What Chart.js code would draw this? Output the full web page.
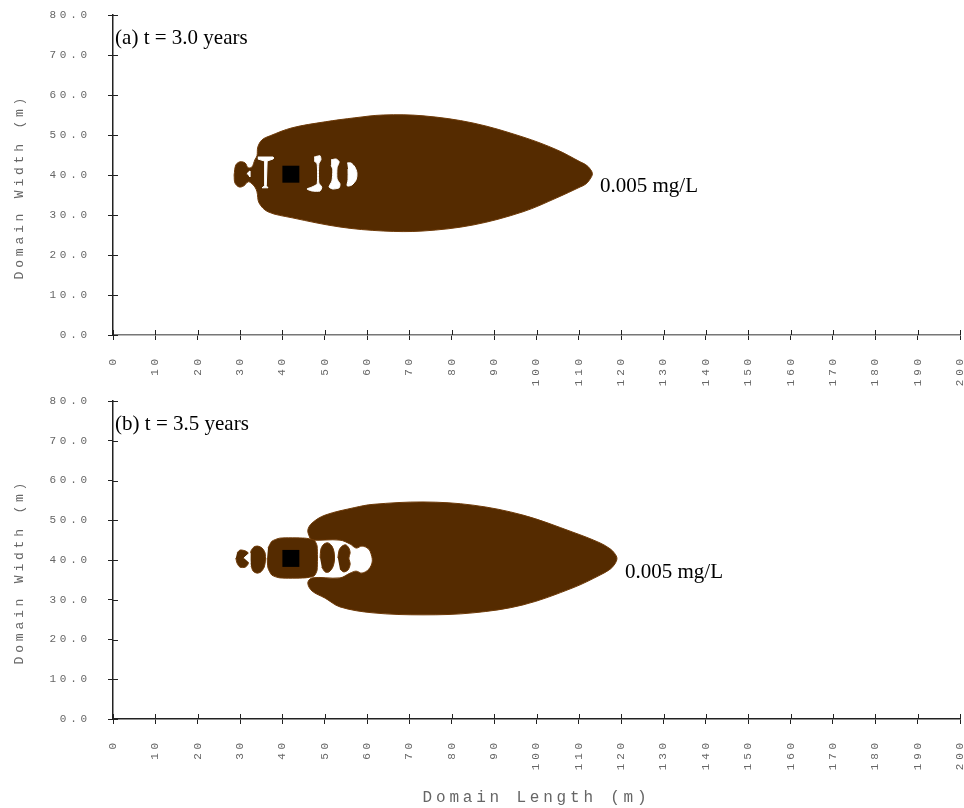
<!DOCTYPE html>
<html lang="en">
<head>
<meta charset="UTF-8">
<title>Plume snapshots</title>
<script src="https://cdn.jsdelivr.net/npm/chart.js@4.4.0/dist/chart.umd.min.js"></script>
<style>
  * { margin: 0; padding: 0; box-sizing: border-box; }
  body { background: #fff; width: 964px; height: 808px; overflow: hidden; position: relative; }
  canvas { position: absolute; left: 0; }
  #plumeA { top: 0; }
  #plumeB { top: 392px; }
</style>
</head>
<body>
<canvas id="plumeA" width="964" height="392"></canvas>
<canvas id="plumeB" width="964" height="416"></canvas>
<script>
// axis ticks
const xTickValues = [0, 10, 20, 30, 40, 50, 60, 70, 80, 90, 100, 110, 120, 130, 140, 150, 160, 170, 180, 190, 200];
const yTickValues = [0, 10, 20, 30, 40, 50, 60, 70, 80];
const yTickLabels = ['0.0', '10.0', '20.0', '30.0', '40.0', '50.0', '60.0', '70.0', '80.0'];

// source location (m)
const sourceA = [[42, 40.2]];
const sourceB = [[42, 40.4]];

// (a) t = 3.0 years : 0.005 mg/L contour, [length, width] in m
const plumeA = [[28.6,40.0],[29.0,42.5],[30.0,43.3],[31.2,43.0],[31.9,41.8],[32.8,42.0],[33.5,43.8],[34.0,44.8],
  [34.2,47.0],[35.2,48.8],[37.1,49.8],[42.3,51.8],[50.1,53.3],[57.1,54.3],[63.8,55.0],[73.2,54.8],[85.0,53.0],
  [96.8,49.5],[104.8,46.3],[110.3,43.3],[111.6,42.6],[112.6,41.6],[113.2,40.3],[112.6,38.9],[111.6,37.7],
  [110.3,37.0],[104.8,34.3],[96.8,30.8],[85.0,27.5],[73.2,26.0],[63.8,26.0],[53.6,27.0],[42.3,29.3],[36.6,30.8],
  [34.5,33.0],[34.0,35.8],[33.5,37.0],[32.6,38.0],[31.9,38.3],[30.9,37.3],[29.8,37.0],[28.8,38.0],[28.6,40.0]];
// gaps inside the (a) contour
const holeA1 = [[34.2,44.5],[37.8,44.5],[37.8,44.0],[36.4,43.5],[36.2,37.3],[36.6,36.8],[35.2,36.8],[35.8,37.3],[35.8,43.5],[34.2,44.0]];
const holeA2 = [[47.5,44.5],[48.9,44.8],[49.1,43.8],[48.6,42.8],[48.6,38.0],[49.3,37.0],[48.9,36.0],[47.0,36.0],[45.8,36.5],[47.0,37.0],[48.2,37.8],[48.2,42.8],[47.5,43.5]];
const holeA3 = [[51.5,43.8],[52.7,44.0],[53.4,43.3],[52.9,41.8],[52.9,39.0],[53.6,37.8],[53.4,36.8],[51.9,36.5],[51.0,37.0],[51.7,38.5],[51.9,41.3],[51.5,42.5]];
const holeA4 = [[55.3,43.0],[56.2,43.0],[57.1,42.0],[57.6,40.5],[57.4,38.8],[56.4,37.5],[55.3,37.3],[55.5,38.8],[55.5,41.5]];
const holeA5 = [[31.6,40.3],[32.3,41.0],[32.3,39.5]];

// (b) t = 3.5 years
const plumeB = [[46.5,45.5],[46.0,47.5],[47.0,49.3],[50.1,51.3],[57.1,53.2],[61.4,54.0],[73.2,54.6],[85.0,53.8],
  [96.8,51.3],[108.6,47.0],[115.0,44.3],[117.4,42.8],[118.5,41.6],[119.0,40.4],[118.5,39.0],[117.4,37.7],
  [115.0,36.2],[108.6,33.0],[96.8,28.7],[85.0,26.7],[73.2,26.2],[61.4,26.7],[53.6,28.2],[50.1,30.4],[47.0,32.2],
  [46.0,34.2],[47.0,35.5],[53.6,35.5],[56.0,36.7],[57.4,37.2],[58.8,36.7],[60.4,37.7],[61.2,39.5],[61.0,41.3],
  [60.3,42.8],[58.8,43.5],[57.4,43.0],[56.0,44.0],[53.6,45.0],[47.0,45.0],[46.5,45.5]];
const blobB1 = [[29.3,41.8],[30.0,42.5],[31.2,42.3],[31.9,41.8],[32.1,40.5],[31.9,39.0],[31.2,38.2],[30.0,38.2],[29.3,39.2],[29.0,40.5]];
const blobB2 = [[32.3,40.3],[32.6,42.3],[33.3,43.3],[34.2,43.5],[35.2,43.0],[35.9,41.8],[36.0,40.0],[35.7,38.2],[34.9,37.0],[34.0,36.7],[33.1,37.2],[32.6,38.5]];
const blobB3 = [[36.6,43.0],[37.5,44.7],[39.4,45.5],[45.3,45.5],[47.5,45.0],[48.2,43.5],[48.2,37.5],[47.5,36.0],[45.3,35.5],[39.4,35.5],[37.5,36.2],[36.6,38.0],[36.4,40.5]];
const blobB4 = [[48.9,40.5],[49.1,42.8],[49.8,44.0],[50.8,44.3],[51.7,43.5],[52.2,42.0],[52.3,40.0],[51.9,38.2],[51.0,37.0],[50.1,37.0],[49.3,38.2]];
const blobB5 = [[53.1,40.5],[53.4,42.5],[54.1,43.5],[55.0,43.8],[55.7,43.0],[56.0,41.8],[55.7,40.5],[56.0,39.0],[55.5,37.5],[54.5,37.0],[53.6,37.7]];
const holeB1 = [[30.9,40.5],[32.3,41.8],[32.3,39.2]];

const BROWN = '#552b00';
const EDGE = '#6e3a08';
const MONO = "'Liberation Mono', 'Courier New', monospace";

function shape(points, color, edge, tension) {
  return {
    data: points.map(p => ({ x: p[0], y: p[1] })),
    showLine: true,
    fill: 'shape',
    backgroundColor: color,
    borderColor: edge,
    borderWidth: 1,
    pointRadius: 0,
    tension: tension
  };
}

function source(points) {
  return {
    data: points.map(p => ({ x: p[0], y: p[1] })),
    pointStyle: 'rect',
    pointRadius: 12,
    backgroundColor: '#000',
    borderWidth: 0,
    showLine: false
  };
}

// ticks cross the axes and the text notes sit in data space
const decor = {
  id: 'decor',
  beforeDraw(chart) {
    chart.ctx.letterSpacing = '3.8px';
  },
  afterDraw(chart, args, opts) {
    const { ctx, chartArea: a, scales: { x, y } } = chart;
    ctx.save();
    ctx.letterSpacing = '0px';
    ctx.strokeStyle = '#222';
    ctx.lineWidth = 1;
    ctx.beginPath();
    x.ticks.forEach(t => {
      const px = Math.round(x.getPixelForValue(t.value)) + 0.5;
      ctx.moveTo(px, a.bottom);
      ctx.lineTo(px, a.bottom - 5);
    });
    y.ticks.forEach(t => {
      const py = Math.round(y.getPixelForValue(t.value)) + 0.5;
      ctx.moveTo(a.left, py);
      ctx.lineTo(a.left + 5, py);
    });
    ctx.stroke();
    ctx.fillStyle = '#000';
    ctx.font = '21px "Liberation Serif", "Times New Roman", serif';
    ctx.textAlign = 'left';
    ctx.textBaseline = 'alphabetic';
    opts.notes.forEach(n => ctx.fillText(n.text, x.getPixelForValue(n.at[0]), y.getPixelForValue(n.at[1])));
    ctx.restore();
    ctx.letterSpacing = '0px';
  }
};

function makeChart(id, datasets, cfg) {
  return new Chart(document.getElementById(id), {
    type: 'scatter',
    data: { datasets: datasets },
    plugins: [decor],
    options: {
      responsive: false,
      animation: false,
      events: [],
      layout: { autoPadding: false, padding: { top: cfg.top, right: 4, left: 0, bottom: 0 } },
      plugins: {
        legend: { display: false },
        tooltip: { enabled: false },
        decor: { notes: cfg.notes }
      },
      scales: {
        x: {
          type: 'linear',
          min: 0,
          max: 200,
          afterFit: s => { s.height = cfg.xHeight; s.paddingLeft = 0; s.paddingRight = 0; },
          grid: { drawOnChartArea: false, tickLength: 5, color: '#222' },
          border: { color: cfg.xAxisColor, width: 1.5 },
          ticks: {
            stepSize: 10,
            autoSkip: false,
            minRotation: 90,
            maxRotation: 90,
            padding: 15,
            color: '#666',
            font: { family: MONO, size: 11 },
            callback: v => xTickValues.includes(v) ? String(v) : ''
          },
          title: {
            display: cfg.xTitle,
            text: 'Domain Length (m)',
            color: '#666',
            font: { family: MONO, size: 16 },
            padding: { top: 0, bottom: 1 }
          }
        },
        y: {
          type: 'linear',
          min: 0,
          max: 80,
          afterFit: s => { s.width = 113; s.paddingTop = 0; s.paddingBottom = 0; },
          grid: { drawOnChartArea: false, tickLength: 5, color: '#222' },
          border: { color: '#222', width: 1.5 },
          ticks: {
            stepSize: 10,
            padding: 17,
            color: '#666',
            font: { family: MONO, size: 11 },
            callback: v => yTickLabels[yTickValues.indexOf(v)]
          },
          title: {
            display: true,
            text: 'Domain Width (m)  ',
            color: '#666',
            font: { family: MONO, size: 13 },
            padding: { top: 12, bottom: 0 }
          }
        }
      }
    }
  });
}

makeChart('plumeA', [
  source(sourceA),
  shape(holeA1, '#fff', '#fff', 0),
  shape(holeA2, '#fff', '#fff', 0.2),
  shape(holeA3, '#fff', '#fff', 0.2),
  shape(holeA4, '#fff', '#fff', 0.3),
  shape(holeA5, '#fff', '#fff', 0),
  shape(plumeA, BROWN, EDGE, 0.35)
], {
  top: 15, xHeight: 57, xAxisColor: '#777', xTitle: false,
  notes: [
    { text: '(a) t = 3.0 years', at: [0.5, 72.8] },
    { text: '0.005 mg/L', at: [115, 35.8] }
  ]
});

makeChart('plumeB', [
  source(sourceB),
  shape(holeB1, '#fff', '#fff', 0),
  shape(blobB1, BROWN, EDGE, 0.3),
  shape(blobB2, BROWN, EDGE, 0.3),
  shape(blobB3, BROWN, EDGE, 0.2),
  shape(blobB4, BROWN, EDGE, 0.3),
  shape(blobB5, BROWN, EDGE, 0.3),
  shape(plumeB, BROWN, EDGE, 0.35)
], {
  top: 9, xHeight: 89, xAxisColor: '#222', xTitle: true,
  notes: [
    { text: '(b) t = 3.5 years', at: [0.5, 72.8] },
    { text: '0.005 mg/L', at: [120.9, 35.5] }
  ]
});
</script>
</body>
</html>
